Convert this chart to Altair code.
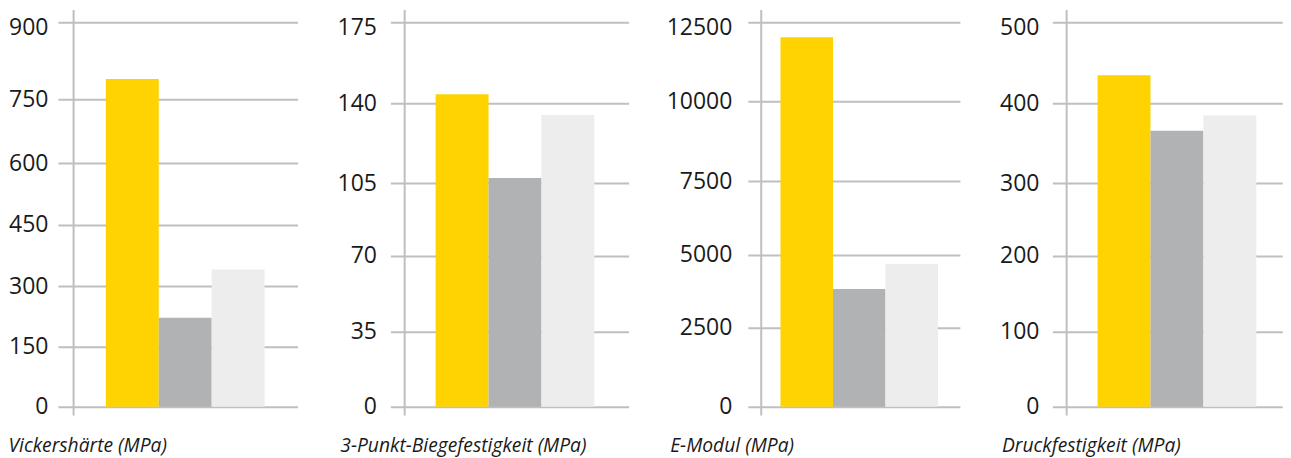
import altair as alt
import pandas as pd

# ---------------- data ----------------
materials = ["Material 1", "Material 2", "Material 3"]
material_colors = ["#FFD300", "#B1B2B4", "#ECEDEC"]

measures = [
    "Vickershärte (MPa)",
    "3-Punkt-Biegefestigkeit (MPa)",
    "E-Modul (MPa)",
    "Druckfestigkeit (MPa)",
]
values_material_1 = [790, 144, 12030, 435]
values_material_2 = [222, 107.4, 3830, 366]
values_material_3 = [341, 135, 4683, 385]

ticks_vickers = [0, 150, 300, 450, 600, 750, 900]
ticks_biege = [0, 35, 70, 105, 140, 175]
ticks_emodul = [0, 2500, 5000, 7500, 10000, 12500]
ticks_druck = [0, 100, 200, 300, 400, 500]
tick_lists = [ticks_vickers, ticks_biege, ticks_emodul, ticks_druck]

# ---------------- layout (pixel geometry of each panel) ----------------
H = 385
layout = [
    dict(w=240, ext=50, lpad=10, tx=-50, rx=15.7, po=0.7642, al=0.5926,
         px=[385, 325, 264.4, 202.7, 141, 77.4, 0]),
    dict(w=238.6, ext=92.7, lpad=14, tx=-50.7, rx=14.3, po=0.7509, al=0.569,
         px=[385, 309.7, 233.7, 161.4, 81.4, 0]),
    dict(w=212.4, ext=119, lpad=16, tx=-78.3, rx=13.4, po=0.5201, al=0.598,
         px=[385, 306, 232.7, 159.4, 79.4, 0]),
    dict(w=230.3, ext=92, lpad=13.4, tx=-51, rx=14.3, po=0.6726, al=0.6353,
         px=[385, 309.7, 233.7, 161.4, 81.4, 0]),
]

FONT = "Open Sans"
TEXT = "#1a1a1a"
GRID = "#BFBFBF"

panels = []
for i, measure in enumerate(measures):
    lay = layout[i]
    ticks = tick_lists[i]
    df = pd.DataFrame({
        "material": materials,
        "value": [values_material_1[i], values_material_2[i], values_material_3[i]],
    })
    top = ticks[-1]
    bars = alt.Chart(df).mark_bar().encode(
        x=alt.X(
            "material:N",
            sort=materials,
            scale=alt.Scale(paddingInner=0, paddingOuter=lay["po"], align=lay["al"], round=False),
            axis=alt.Axis(
                labels=False, ticks=False, domain=False, grid=False,
                title=measure, titleFont=FONT, titleFontSize=19.3, titleFontStyle="italic",
                titleFontWeight="normal", titleColor=TEXT, titleAnchor="start",
                titleAlign="left", titleBaseline="alphabetic",
                titleX=lay["tx"], titleY=44.7,
            ),
        ),
        y=alt.Y(
            "value:Q",
            scale=alt.Scale(domain=ticks, range=lay["px"]),
            axis=alt.Axis(
                values=ticks, title=None, grid=True, gridColor=GRID, gridWidth=2,
                domain=False, ticks=False, labelFont=FONT, labelFontSize=23,
                labelColor=TEXT, labelPadding=lay["lpad"], labelFlush=False,
                labelOverlap=False, minExtent=lay["ext"], maxExtent=lay["ext"],
                format="d",
                labelOffset={"condition": {"test": f"datum.value == {top}", "value": 5}, "value": 0},
            ),
        ),
        color=alt.Color("material:N", scale=alt.Scale(domain=materials, range=material_colors), legend=None),
    )
    rule = alt.Chart(pd.DataFrame({"k": [0]})).mark_rule(color=GRID, strokeWidth=2).encode(
        x=alt.value(lay["rx"]), y=alt.value(-12.3), y2=alt.value(H + 8.7)
    )
    panels.append(alt.layer(bars, rule).properties(width=lay["w"], height=H))

chart = alt.hconcat(*panels, spacing=0).configure_view(stroke=None).properties(
    padding={"left": 0, "top": 0, "right": 0, "bottom": 2}, background="white"
)

chart.save("out.html", embed_options={"renderer": "svg", "actions": False})
